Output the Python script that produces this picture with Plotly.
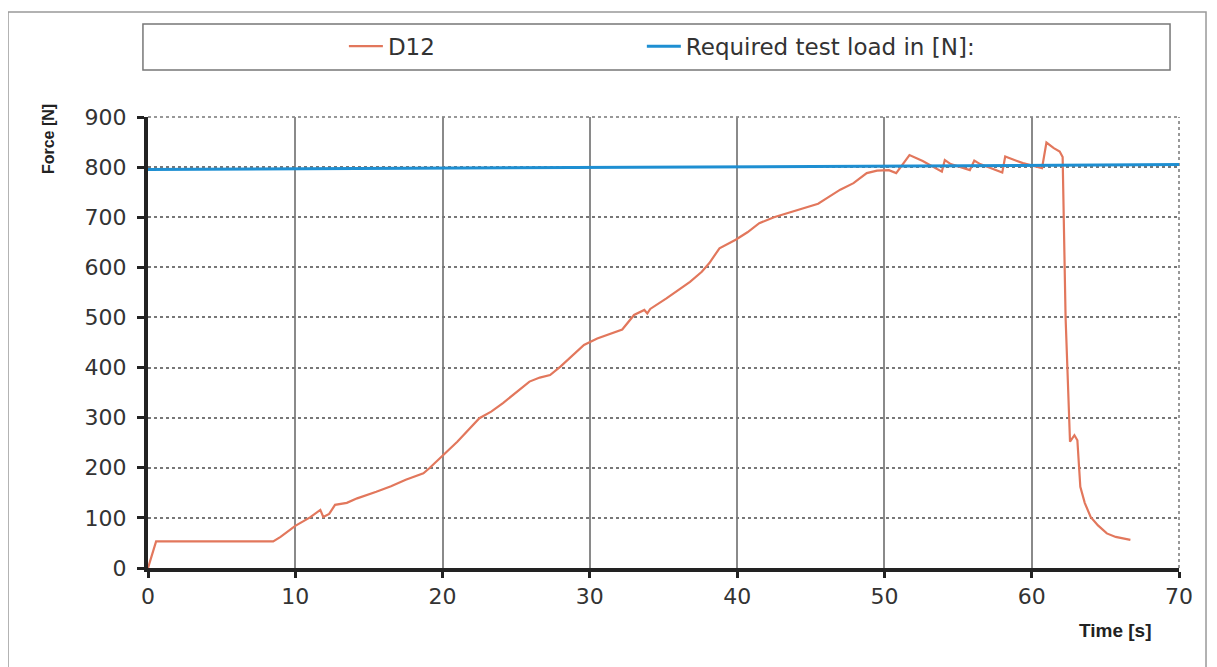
import plotly.graph_objects as go

# D12 force curve (time in s, force in N)
time_s = [0, 0.55, 8.5, 9.0, 10.0, 11.0, 11.7, 11.9, 12.3, 12.7, 13.5, 14.2, 15.5, 16.5, 17.5, 18.7, 19.1,
          20.0, 21.0, 22.5, 23.3, 24.1, 25.0, 25.9, 26.6, 27.3, 28.0, 28.8, 29.6, 30.5, 31.4, 32.2, 33.0,
          33.7, 33.9, 34.1, 35.2, 36.0, 36.8, 37.6, 38.1, 38.8, 39.9, 40.7, 41.5, 42.5, 43.4, 44.3, 45.5,
          46.2, 47.0, 47.9, 48.8, 49.5, 50.3, 50.8, 51.7, 52.6, 53.9, 54.1, 54.5, 55.8, 56.1, 56.5, 58.0,
          58.2, 59.4, 60.7, 61.0, 61.5, 61.9, 62.1, 62.3, 62.6, 62.9, 63.1, 63.3, 63.6, 64.0, 64.5, 65.1,
          65.7, 66.7]
force_n = [0, 53, 53, 62, 84, 101, 116, 102, 108, 126, 130, 139, 152, 163, 176, 189, 199,
           225, 252, 299, 312, 329, 350, 372, 380, 385, 402, 424, 445, 458, 468, 476, 505,
           515, 508, 517, 538, 555, 571, 591, 608, 638, 655, 670, 688, 700, 708, 715, 727,
           740, 755, 768, 788, 793, 794, 788, 824, 812, 791, 814, 806, 794, 813, 806, 789,
           821, 808, 798, 849, 838, 831, 820, 500, 252, 265, 255, 162, 130, 102, 85, 69,
           62, 56]

# Required test load line
load_time = [0, 70]
load_force = [795, 805]

x_ticks = [0, 10, 20, 30, 40, 50, 60, 70]
y_ticks = [0, 100, 200, 300, 400, 500, 600, 700, 800, 900]

fig = go.Figure()
fig.add_trace(go.Scatter(x=time_s, y=force_n, mode="lines", name="D12", legend="legend",
                         line=dict(color="#E2775C", width=2.2)))
fig.add_trace(go.Scatter(x=load_time, y=load_force, mode="lines", name="Required test load in [N]:",
                         legend="legend2", line=dict(color="#1E8FD2", width=3)))

tick_font = dict(family="DejaVu Sans", size=22, color="#333333")
legend_font = dict(family="DejaVu Sans", size=23, color="#333333")

fig.update_layout(
    width=1209, height=659,
    margin=dict(l=140, r=38, t=109, b=99),
    paper_bgcolor="white", plot_bgcolor="white",
    showlegend=True,
    legend=dict(orientation="h", x=0.19, y=1.157, xanchor="left", yanchor="middle",
                font=legend_font, bgcolor="rgba(0,0,0,0)", itemwidth=34),
    legend2=dict(orientation="h", x=0.479, y=1.157, xanchor="left", yanchor="middle",
                 font=legend_font, bgcolor="rgba(0,0,0,0)", itemwidth=34),
    xaxis=dict(range=[0, 70], tickvals=x_ticks, ticks="outside", ticklen=6, tickwidth=3,
               tickcolor="#222", showline=True, linecolor="#222", linewidth=4,
               showgrid=True, gridcolor="#8a8a8a", gridwidth=1.5, griddash="solid",
               zeroline=False, tickfont=tick_font),
    yaxis=dict(range=[0, 900], tickvals=y_ticks, ticks="outside", ticklen=7, tickwidth=3,
               tickcolor="#222", showline=True, linecolor="#222", linewidth=4,
               showgrid=True, gridcolor="#777777", gridwidth=1.5, griddash="dot",
               zeroline=False, tickfont=tick_font, ticklabelstandoff=6),
    shapes=[
        dict(type="rect", xref="paper", yref="paper", x0=-0.1358, x1=1.0262, y0=-0.3, y1=1.2328,
             line=dict(color="#999999", width=1.5), layer="below"),
        dict(type="rect", xref="paper", yref="paper", x0=-0.0049, x1=0.9913, y0=1.1042, y1=1.2062,
             line=dict(color="#777777", width=1.5), layer="below"),
        dict(type="line", xref="paper", yref="paper", x0=0, x1=1, y0=1, y1=1,
             line=dict(color="#777777", width=1.5, dash="dot"), layer="below"),
        dict(type="line", xref="paper", yref="paper", x0=1, x1=1, y0=0, y1=1,
             line=dict(color="#777777", width=1.5, dash="dot"), layer="below"),
    ],
    annotations=[
        dict(text="<b>Force [N]</b>", xref="paper", yref="paper", x=-0.0965, y=0.95,
             textangle=-90, showarrow=False, xanchor="center", yanchor="middle",
             font=dict(family="Liberation Sans", size=16, color="#222")),
        dict(text="<b>Time [s]</b>", xref="paper", yref="paper", x=0.938, y=-0.139,
             showarrow=False, xanchor="center", yanchor="middle",
             font=dict(family="Liberation Sans", size=19, color="#222")),
    ],
)

fig.write_html("out.html")
